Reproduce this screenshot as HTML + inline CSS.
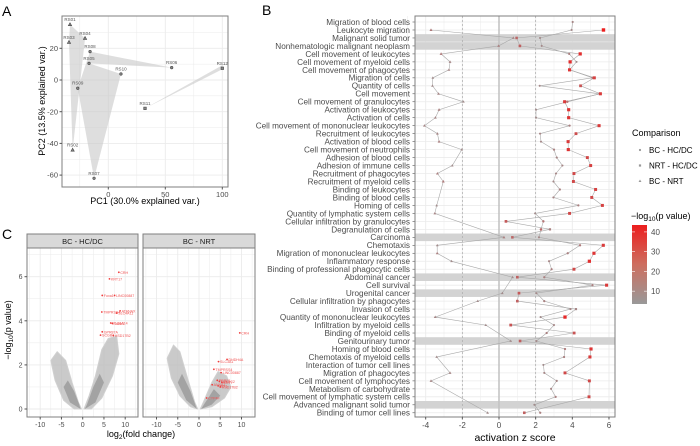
<!DOCTYPE html>
<html><head><meta charset="utf-8">
<style>
html,body{margin:0;padding:0;background:#fff;}
svg{display:block;font-family:"Liberation Sans",Arial,sans-serif;}
</style></head>
<body>
<svg id="fig" width="700" height="446" viewBox="0 0 700 446" xmlns="http://www.w3.org/2000/svg">
<text x="2" y="16" font-size="14" fill="#000">A</text>
<text x="262" y="15" font-size="14" fill="#000">B</text>
<text x="2" y="239" font-size="14" fill="#000">C</text>
<g id="pa"></g>
<g id="pb"></g>
<g id="pc"></g>
</svg>
<script>
// ---------- Panel A data ----------
const pcaSamples=["RS01","RS03","RS04","RS08","RS05","RS10","RS06","RS12","RS09","RS11","RS02","RS07"];
const pcaPC1=[-33.6,-34.5,-20.4,-16,-16.9,11.1,55.6,100,-26.8,32.2,-31.3,-12.5];
const pcaPC2=[35,23.8,26.3,17.9,10.5,3.8,7.8,7.4,-5.2,-17.9,-44.2,-62];
const pcaShape=["tri","tri","tri","cir","cir","cir","cir","sq","cir","sq","tri","cir"];
const pcaXTicks=[0,50,100];
const pcaYTicks=[-60,-40,-20,0,20];
// ---------- Panel B data ----------
const terms=["Migration of blood cells","Leukocyte migration","Malignant solid tumor","Nonhematologic malignant neoplasm","Cell movement of leukocytes","Cell movement of myeloid cells","Cell movement of phagocytes","Migration of cells","Quantity of cells","Cell movement","Cell movement of granulocytes","Activation of leukocytes","Activation of cells","Cell movement of mononuclear leukocytes","Recruitment of leukocytes","Activation of blood cells","Cell movement of neutrophils","Adhesion of blood cells","Adhesion of immune cells","Recruitment of phagocytes","Recruitment of myeloid cells","Binding of leukocytes","Binding of blood cells","Homing of cells","Quantity of lymphatic system cells","Cellular infiltration by granulocytes","Degranulation of cells","Carcinoma","Chemotaxis","Migration of mononuclear leukocytes","Inflammatory response","Binding of professional phagocytic cells","Abdominal cancer","Cell survival","Urogenital cancer","Cellular infiltration by phagocytes","Invasion of cells","Quantity of mononuclear leukocytes","Infiltration by myeloid cells","Binding of myeloid cells","Genitourinary tumor","Homing of blood cells","Chemotaxis of myeloid cells","Interaction of tumor cell lines","Migration of phagocytes","Cell movement of lymphocytes","Metabolism of carbohydrate","Cell movement of lymphatic system cells","Advanced malignant solid tumor","Binding of tumor cell lines"];
const highlighted=[0,0,1,1,0,0,0,0,0,0,0,0,0,0,0,0,0,0,0,0,0,0,0,0,0,0,0,1,0,0,0,0,1,0,1,0,0,0,0,0,1,0,0,0,0,0,0,0,1,0];
const zBCHC=[4.02,3.96,2.24,2.33,3.83,4.23,3.85,5.1,2.22,5.5,3.73,2.02,2.02,3.85,2.24,2.29,3.0,3.15,3.46,3.11,2.97,3.32,2.97,4.33,1.97,2.42,2.29,2.18,4.42,3.75,2.73,2.87,2.47,5.1,2.04,2.47,3.9,2.27,3.0,2.6,2.04,3.6,3.55,2.42,2.47,3.15,2.84,3.09,1.93,2.25];
const pBCHC=[10,9,8,9,12,8,12,14,9,14,16,8,8,12,10,9,12,10,10,10,9,12,10,12,8,16,20,9,14,12,10,12,12,12,9,12,10,8,10,12,9,14,12,8,10,10,10,12,8,12];
const zNRT=[null,5.7,0.96,1.14,4.43,3.88,3.85,5.2,4.45,5.53,3.58,3.8,3.8,5.46,4.2,3.77,3.78,4.82,5.0,4.09,4.06,5.27,5.06,5.64,3.85,0.38,2.78,0.73,5.69,5.18,4.93,4.09,1.0,5.87,1.09,1.0,4.2,3.6,0.64,4.1,1.15,5.02,4.96,null,3.6,4.93,null,4.91,null,1.38];
const pNRT=[0,43,20,22,38,38,36,32,26,34,34,36,36,34,28,34,36,30,32,30,30,32,30,32,30,24,12,20,34,36,38,30,22,34,24,22,10,40,26,26,22,36,34,0,30,30,0,30,0,22];
const zBCNRT=[null,-3.71,0.78,-0.02,-3.16,-2.67,-2.73,-3.61,-3.63,-3.3,-1.94,-3.27,-3.47,-4.07,-3.36,-3.27,-2.03,null,-2.55,-3.36,-3.04,null,null,-3.4,-3.5,null,null,0.27,-3.37,-3.37,-2.59,null,0.74,null,0.18,-1.16,null,-3.48,-0.72,null,0.64,null,-3.4,null,-2.67,-3.71,null,null,null,-0.62];
const pBCNRT=[0,14,10,12,14,10,10,8,8,10,8,12,10,10,10,12,8,0,8,12,14,0,0,8,10,0,0,12,8,12,8,0,8,0,8,8,0,10,8,0,8,0,8,0,10,10,0,0,0,8];
const zTicks=[-4,-2,0,2,4,6];
const legendP=[10,20,30,40];
// ---------- Panel C data ----------
const hcGenes=["CRH","KRT17","Foxa1","LINC00887","TMPRSS4","ATANAX","SLC4A11","SLC6A14","Tubb3","GPR87A","SCGB1","HSD17B2"];
const hcFC=[8.5,6.3,4.6,7.5,4.5,8.8,8.0,6.6,7.0,4.6,4.2,7.2];
const hcP=[6.2,5.9,5.15,5.15,4.4,4.45,4.35,3.9,3.88,3.5,3.35,3.33];
const nrtGenes=["CRH","DHDH4A","SLC3A1","TMPRSS4","LINC00887","PRRF1","FAXDC2","ANXA1","SIX1","KRT7","HSD17B2","CYP4F"];
const nrtFC=[9.6,6.6,4.6,3.5,5.2,4.3,4.8,3.1,4.5,5.4,5.0,1.8];
const nrtP=[3.45,2.25,2.15,1.8,1.65,1.3,1.25,1.1,1.05,1.2,1.0,0.5];
const volXTicks=[-10,-5,0,5,10];
const volYTicks=[0,2,4,6];

const NS="http://www.w3.org/2000/svg";
function mk(tag,attrs,parent,txt){const e=document.createElementNS(NS,tag);for(const k in attrs)e.setAttribute(k,attrs[k]);if(txt!==undefined)e.textContent=txt;parent.appendChild(e);return e;}
function col(p){const t=Math.max(0,Math.min(1,(p-4)/39));const r=Math.round(153+t*(236-153)),g=Math.round(153-t*(153-30)),b=Math.round(153-t*(153-30));return `rgb(${r},${g},${b})`;}
function shape(g,type,x,y,s,fill,stroke){
  let e;
  if(type==="tri"){e=mk("polygon",{points:`${x},${y-s*1.2} ${x-s*1.1},${y+s*0.75} ${x+s*1.1},${y+s*0.75}`,fill:fill,stroke:stroke||"none","stroke-width":0.6},g);}
  else if(type==="sq"){e=mk("rect",{x:x-s*0.85,y:y-s*0.85,width:s*1.7,height:s*1.7,fill:fill,stroke:stroke||"none","stroke-width":0.6},g);}
  else {e=mk("circle",{cx:x,cy:y,r:s*0.85,fill:fill,stroke:stroke||"none","stroke-width":0.6},g);}
  return e;
}

// ================= Panel A =================
(function(){
  const g=document.getElementById("pa");
  const L=62,R=228,T=16,B=187;
  const xs=v=>108.3+v*1.14, ys=v=>80-v*1.585;
  mk("rect",{x:L,y:T,width:R-L,height:B-T,fill:"#fff"},g);
  for(let v=-25;v<=100;v+=25){mk("line",{x1:xs(v),x2:xs(v),y1:T,y2:B,stroke:"#ebebeb","stroke-width":v%50===0?0.9:0.5},g);}
  for(let v=-60;v<=30;v+=10){mk("line",{x1:L,x2:R,y1:ys(v),y2:ys(v),stroke:"#ebebeb","stroke-width":v%20===0?0.9:0.5},g);}
  const hulls=[["RS01","RS04","RS02","RS03"],["RS08","RS06","RS05","RS10","RS07","RS09"],["RS11","RS12"]];
  hulls.forEach((h,hi)=>{
    let p=h.map(n=>{const i=pcaSamples.indexOf(n);return xs(pcaPC1[i])+","+ys(pcaPC2[i]);}).join(" ");
    if(h.length===2){const i=pcaSamples.indexOf(h[0]),j=pcaSamples.indexOf(h[1]);p=`${xs(pcaPC1[i])},${ys(pcaPC2[i])} ${xs(pcaPC1[j])},${ys(pcaPC2[j])-3} ${xs(pcaPC1[j])},${ys(pcaPC2[j])+1}`;}
    const e=mk("polygon",{points:p,fill:"#c8c8c8","fill-opacity":0.6,stroke:"none"},g);
    
    
  });
  pcaSamples.forEach((n,i)=>{
    const x=xs(pcaPC1[i]),y=ys(pcaPC2[i]);
    const e=shape(g,pcaShape[i],x,y,1.5,"#888","#444");
    
    
    const t=mk("text",{x:x,y:y-3.5,"font-size":4.5,fill:"#555","text-anchor":"middle"},g,n);
    
    
  });
  mk("rect",{x:L,y:T,width:R-L,height:B-T,fill:"none",stroke:"#7f7f7f","stroke-width":1},g);
  pcaXTicks.forEach(v=>{mk("line",{x1:xs(v),x2:xs(v),y1:B,y2:B+2.5,stroke:"#555"},g);const t=mk("text",{x:xs(v),y:B+10,"font-size":7.5,fill:"#4d4d4d","text-anchor":"middle"},g,v);});
  pcaYTicks.forEach(v=>{mk("line",{x1:L-2.5,x2:L,y1:ys(v),y2:ys(v),stroke:"#555"},g);const t=mk("text",{x:L-4,y:ys(v)+2.6,"font-size":7.5,fill:"#4d4d4d","text-anchor":"end"},g,v);});
  const xt=mk("text",{x:145,y:204,"font-size":9,fill:"#000","text-anchor":"middle"},g,"PC1 (30.0% explained var.)");
  
  const yt=mk("text",{x:0,y:0,"font-size":9,fill:"#000","text-anchor":"middle",transform:"translate(45,101) rotate(-90)"},g,"PC2 (13.5% explained var.)");
  
})();

// ================= Panel B =================
(function(){
  const g=document.getElementById("pb");
  const L=415,R=615,T=16,B=417;
  const xs=v=>499+v*18.33, ys=i=>22+i*7.975;
  mk("rect",{x:L,y:T,width:R-L,height:B-T,fill:"#fff"},g);
  for(let v=-5;v<=6;v+=1){mk("line",{x1:xs(v),x2:xs(v),y1:T,y2:B,stroke:"#ebebeb","stroke-width":v%2===0?0.9:0.5},g);}
  terms.forEach((t,i)=>{
    mk("line",{x1:L,x2:R,y1:ys(i),y2:ys(i),stroke:"#ebebeb","stroke-width":0.8},g);
    if(highlighted[i]){const r=mk("rect",{x:L,y:ys(i)-3.8,width:R-L,height:7.6,fill:"#d3d3d3"},g);}
    const tx=mk("text",{x:L-5,y:ys(i)+2.9,"font-size":8.2,fill:"#4d4d4d","text-anchor":"end"},g,t);
    
    mk("line",{x1:L-2.5,x2:L,y1:ys(i),y2:ys(i),stroke:"#555","stroke-width":0.6},g);
  });
  mk("line",{x1:xs(0),x2:xs(0),y1:T,y2:B,stroke:"#c4c4c4","stroke-width":1.6},g);
  [-2,2].forEach(v=>mk("line",{x1:xs(v),x2:xs(v),y1:T,y2:B,stroke:"#aaa","stroke-width":0.7,"stroke-dasharray":"2,2"},g));
  const series=[["bc-hcdc",zBCHC,pBCHC,"cir"],["nrt-hcdc",zNRT,pNRT,"sq"],["bc-nrt",zBCNRT,pBCNRT,"tri"]];
  series.forEach(([nm,z,p])=>{
    const pts=[];z.forEach((v,i)=>{if(v!==null)pts.push(xs(v).toFixed(1)+","+ys(i).toFixed(1));});
    const pl=mk("polyline",{points:pts.join(" "),fill:"none",stroke:"#a9a9a9","stroke-width":0.6},g);
    
  });
  series.forEach(([nm,z,p,sh])=>{
    z.forEach((v,i)=>{if(v===null)return;
      const s=1.05+p[i]/45;
      const e=shape(g,sh,xs(v),ys(i),s,col(p[i]));
      
      
    });
  });
  mk("rect",{x:L,y:T,width:R-L,height:B-T,fill:"none",stroke:"#7f7f7f","stroke-width":1},g);
  zTicks.forEach(v=>{mk("line",{x1:xs(v),x2:xs(v),y1:B,y2:B+2.5,stroke:"#555"},g);const t=mk("text",{x:xs(v),y:B+11,"font-size":8,fill:"#4d4d4d","text-anchor":"middle"},g,v);});
  const xt=mk("text",{x:515,y:441,"font-size":10.5,fill:"#000","text-anchor":"middle"},g,"activation z score");
  
  const lt=mk("text",{x:632,y:136,"font-size":9,fill:"#000"},g,"Comparison");
  
  [["BC - HC/DC","cir"],["NRT - HC/DC","sq"],["BC - NRT","tri"]].forEach(([lab,sh],k)=>{
    const y=150+k*15.5;
    const s=shape(g,sh,640,y,1.3,"#999");
    
    const t=mk("text",{x:649,y:y+2.8,"font-size":8,fill:"#000"},g,lab);
    
  });
  const pt=mk("text",{x:631,y:219,"font-size":9,fill:"#000"},g);
  
  mk("tspan",{},pt,"\u2212log");mk("tspan",{"font-size":6.5,dy:2},pt,"10");mk("tspan",{dy:-2},pt,"(p value)");
  const defs=mk("defs",{},g);const lg=mk("linearGradient",{id:"pg",x1:0,y1:1,x2:0,y2:0},defs);
  mk("stop",{offset:0,"stop-color":col(3.5)},lg);mk("stop",{offset:0.5,"stop-color":"rgb(205,110,95)"},lg);mk("stop",{offset:1,"stop-color":col(43)},lg);
  const cb=mk("rect",{x:632,y:225,width:15,height:79,fill:"url(#pg)"},g);
  
  legendP.forEach(v=>{const y=304-(v-3.5)*1.975;mk("line",{x1:632,x2:635,y1:y,y2:y,stroke:"#fff","stroke-width":0.6},g);mk("line",{x1:644,x2:647,y1:y,y2:y,stroke:"#fff","stroke-width":0.6},g);
    const t=mk("text",{x:651,y:y+3,"font-size":8,fill:"#4d4d4d"},g,v);});
})();

// ================= Panel C =================
(function(){
  const g=document.getElementById("pc");
  const facets=[{name:"BC - HC/DC",L:27,R:138,x0:82.7,genes:hcGenes,fc:hcFC,p:hcP,
      cloud:[[[-0.3,0],[-2,0],[-4.5,0.4],[-6.5,1.3],[-7.5,2.2],[-6,2.6],[-4,2.2],[-2.5,1.2],[-1,0.3]],[[0.3,0],[2,0],[4.5,0.5],[7,1.5],[8.5,2.5],[8,3.3],[6,3.2],[4.5,2.7],[3,1.5],[1.5,0.6]]],
      core:[[[-0.5,0],[-3,0.3],[-4.5,1.0],[-3.5,1.3],[-2,0.8],[-0.8,0.2]],[[0.5,0],[3,0.3],[5,1.2],[4,1.6],[2.5,1.0],[1,0.2]]]},
    {name:"BC - NRT",L:143,R:255,x0:199,genes:nrtGenes,fc:nrtFC,p:nrtP,
      cloud:[[[-0.3,0],[-2,0.1],[-4.5,0.6],[-6.5,1.4],[-7.5,2.3],[-6,2.9],[-4.5,2.6],[-3,1.6],[-1,0.3]],[[0.3,0],[3,0.1],[6,0.5],[7.5,1.0],[6.5,1.5],[4.5,1.7],[3,1.2],[1,0.3]]],
      core:[[[-0.5,0],[-3,0.4],[-5,1.2],[-4,1.6],[-2,0.8]],[[0.5,0],[3,0.2],[5,0.6],[3.5,0.9],[1.5,0.3]]]}];
  const T=248,B=417,ST=234;
  const ys=v=>409-v*22.05;
  facets.forEach((f,fi)=>{
    const xs=v=>f.x0+v*4.25;
    const fg=mk("g",{},g);
    
    mk("rect",{x:f.L,y:T,width:f.R-f.L,height:B-T,fill:"#fff"},fg);
    for(let v=-12.5;v<=12.5;v+=2.5){const x=xs(v);if(x>f.L&&x<f.R)mk("line",{x1:x,x2:x,y1:T,y2:B,stroke:"#ebebeb","stroke-width":v%5===0?0.9:0.5},fg);}
    for(let v=-1;v<=7;v+=1){const y=ys(v);if(y>T&&y<B)mk("line",{x1:f.L,x2:f.R,y1:y,y2:y,stroke:"#ebebeb","stroke-width":v%2===0?0.9:0.5},fg);}
    f.cloud.forEach(poly=>{const c=mk("polygon",{points:poly.map(([a,b])=>xs(a)+","+ys(b)).join(" "),fill:"#bdbdbd","fill-opacity":0.8,stroke:"#d0d0d0","stroke-width":1,"stroke-linejoin":"round"},fg);});
    f.core.forEach(poly=>{const c=mk("polygon",{points:poly.map(([a,b])=>xs(a)+","+ys(b)).join(" "),fill:"#a3a3a3","stroke-linejoin":"round"},fg);});
    f.genes.forEach((gn,i)=>{
      const x=xs(f.fc[i]),y=ys(f.p[i]);
      const c=mk("circle",{cx:x,cy:y,r:0.9,fill:"#f03c3c"},fg);
      
      const t=mk("text",{x:x+1.5,y:y+1.5,"font-size":3.6,fill:"#f05050"},fg,gn);
      
    });
    mk("rect",{x:f.L,y:T,width:f.R-f.L,height:B-T,fill:"none",stroke:"#7f7f7f","stroke-width":1},fg);
    const s=mk("rect",{x:f.L,y:ST,width:f.R-f.L,height:T-ST,fill:"#d9d9d9",stroke:"#7f7f7f","stroke-width":1},fg);
    
    const st=mk("text",{x:(f.L+f.R)/2,y:ST+10,"font-size":7.5,fill:"#1a1a1a","text-anchor":"middle"},fg,f.name);
    
    volXTicks.forEach(v=>{const x=xs(v);if(x<f.L||x>f.R)return;mk("line",{x1:x,x2:x,y1:B,y2:B+2.5,stroke:"#555"},fg);const t=mk("text",{x:x,y:B+10,"font-size":7,fill:"#4d4d4d","text-anchor":"middle"},fg,v);});
  });
  volYTicks.forEach(v=>{mk("line",{x1:24.5,x2:27,y1:ys(v),y2:ys(v),stroke:"#555"},g);const t=mk("text",{x:22.5,y:ys(v)+2.5,"font-size":7,fill:"#4d4d4d","text-anchor":"end"},g,v);});
  const xt=mk("text",{x:141,y:437,"font-size":9,fill:"#000","text-anchor":"middle"},g);
  
  mk("tspan",{},xt,"log");mk("tspan",{"font-size":6.5,dy:2},xt,"2");mk("tspan",{dy:-2},xt,"(fold change)");
  const yt=mk("text",{x:0,y:0,"font-size":9,fill:"#000","text-anchor":"middle",transform:"translate(11,330) rotate(-90)"},g);
  
  mk("tspan",{},yt,"\u2212log");mk("tspan",{"font-size":6.5,dy:2},yt,"10");mk("tspan",{dy:-2},yt,"(p value)");
})();
</script>
</body></html>
